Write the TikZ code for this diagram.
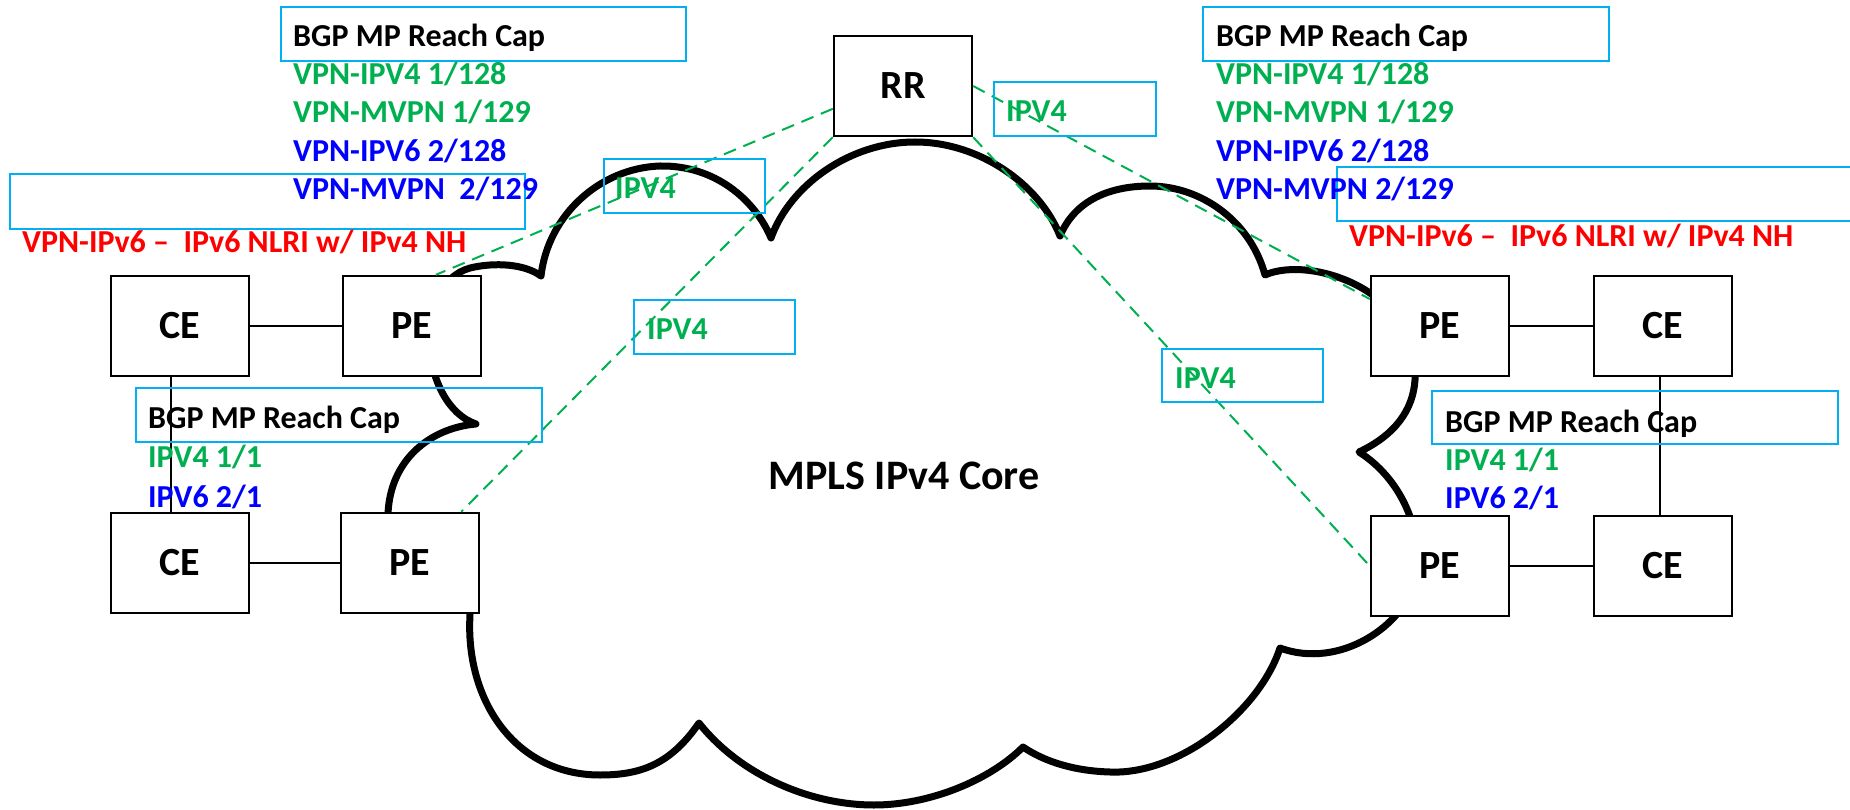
\documentclass[tikz,border=0pt]{standalone}
\usepackage{fontspec}
\setmainfont{Carlito}
\usepackage{xcolor}
\definecolor{capblue}{RGB}{0,176,240}
\definecolor{nlrigreen}{RGB}{0,176,80}
\definecolor{nlriblue}{RGB}{0,0,255}
\definecolor{nhred}{RGB}{255,0,0}

\begin{document}
\begin{tikzpicture}[x=1pt,y=-1pt,
  router/.style={draw=black, fill=white, line width=2.4pt, minimum width=138pt, minimum height=100pt, inner sep=0pt, font=\fontsize{40}{40}\selectfont\bfseries},
  lbl/.style={anchor=base west, inner sep=0pt, font=\fontsize{32}{32}\selectfont\bfseries},
  capbox/.style={draw=capblue, line width=2.2pt},
  session/.style={draw=nlrigreen, line width=2pt, dash pattern=on 13pt off 8pt},
  link/.style={draw=black, line width=2pt},
  cloud/.style={draw=black, line width=7pt, line join=round, line cap=round}]
%% page size, in pixels of the original drawing (y runs down)
\useasboundingbox (0,0) rectangle (1850,810);
%% the core cloud, drawn first so that the PE boxes sit on top of it
\draw[cloud] (541,276)
  .. controls (548,215) and (600,168) .. (660,166)
  .. controls (715,165) and (755,200) .. (771,238)
  .. controls (790,185) and (850,142) .. (915,142)
  .. controls (980,142) and (1040,185) .. (1060,236)
  .. controls (1075,200) and (1110,186) .. (1150,186)
  .. controls (1200,186) and (1250,220) .. (1265,275)
  .. controls (1310,255) and (1420,290) .. (1415,380)
  .. controls (1413,410) and (1395,435) .. (1359,452)
  .. controls (1400,478) and (1425,530) .. (1415,580)
  .. controls (1405,625) and (1340,670) .. (1280,648)
  .. controls (1260,710) and (1180,775) .. (1110,772)
  .. controls (1075,771) and (1045,762) .. (1023,747)
  .. controls (990,780) and (930,805) .. (874,805)
  .. controls (810,805) and (740,775) .. (699,723)
  .. controls (670,765) and (640,775) .. (600,775)
  .. controls (515,775) and (465,700) .. (470,615)
  .. controls (470,560) and (385,570) .. (388,514)
  .. controls (390,460) and (430,428) .. (476,424)
  .. controls (420,405) and (410,285) .. (470,268)
  .. controls (495,262) and (525,264) .. (541,276);
\node[anchor=base, inner sep=0pt, font=\fontsize{42}{42}\selectfont\bfseries] (core) at (904,489) {MPLS IPv4 Core};
%% routers
\node[router] (rr) at (903,86) {RR};
\node[router] (ce1) at (180,326) {CE};
\node[router] (pe1) at (412,326) {PE};
\node[router] (ce2) at (180,563) {CE};
\node[router] (pe2) at (410,563) {PE};
\node[router] (pe3) at (1440,326) {PE};
\node[router] (ce3) at (1663,326) {CE};
\node[router] (pe4) at (1440,566) {PE};
\node[router] (ce4) at (1663,566) {CE};
%% attachment circuits
\draw[link] (ce1) -- (pe1);
\draw[link] (ce2) -- (pe2);
\draw[link] (pe3) -- (ce3);
\draw[link] (pe4) -- (ce4);
\draw[link] ([xshift=-9pt]ce1.south) -- ([xshift=-9pt]ce2.north);
\draw[link] ([xshift=-3pt]ce3.south) -- ([xshift=-3pt]ce4.north);
%% iBGP sessions to the route reflector
\draw[session] (rr.198) -- (pe1.65);
\draw[session] (rr.south west) -- (pe2.45);
\draw[session] (rr.east) -- (pe3.159);
\draw[session] (rr.south east) -- (pe4.west);
%% text boxes
\draw[capbox] (281,7) rectangle (686,61);
\draw[capbox] (10,174) rectangle (525,229);
\draw[capbox] (1203,7) rectangle (1609,61);
\draw[capbox] (1337,167) rectangle (1856,221);
\draw[capbox] (136,388) rectangle (542,442);
\draw[capbox] (1432,391) rectangle (1838,444);
\draw[capbox] (994,82) rectangle (1156,136);
\draw[capbox] (604,159) rectangle (765,213);
\draw[capbox] (634,300) rectangle (795,354);
\draw[capbox] (1162,349) rectangle (1323,402);
%% session labels
\node[lbl, nlrigreen] (v4rr) at (1006,122) {IPV4};
\node[lbl, nlrigreen] (v4pe1) at (615,199) {IPV4};
\node[lbl, nlrigreen] (v4pe2) at (647,340) {IPV4};
\node[lbl, nlrigreen] (v4pe4) at (1175,388) {IPV4};
%% capabilities, left PE
\node[lbl] (capl) at (293,47) {BGP MP Reach Cap};
\node[lbl, nlrigreen] (capl1) at (293,85) {VPN-IPV4 1/128};
\node[lbl, nlrigreen] (capl2) at (293,123) {VPN-MVPN 1/129};
\node[lbl, nlriblue] (capl3) at (293,162) {VPN-IPV6 2/128};
\node[lbl, nlriblue] (capl4) at (293,200) {VPN-MVPN\ \ 2/129};
\node[lbl, nhred] (nhl) at (22,253) {VPN-IPv6 –\ \ IPv6 NLRI w/ IPv4 NH};
%% capabilities, right PE
\node[lbl] (capr) at (1216,47) {BGP MP Reach Cap};
\node[lbl, nlrigreen] (capr1) at (1216,85) {VPN-IPV4 1/128};
\node[lbl, nlrigreen] (capr2) at (1216,123) {VPN-MVPN 1/129};
\node[lbl, nlriblue] (capr3) at (1216,162) {VPN-IPV6 2/128};
\node[lbl, nlriblue] (capr4) at (1216,200) {VPN-MVPN 2/129};
\node[lbl, nhred] (nhr) at (1349,247) {VPN-IPv6 –\ \ IPv6 NLRI w/ IPv4 NH};
%% capabilities, CE side
\node[lbl] (capce1) at (148,428) {BGP MP Reach Cap};
\node[lbl, nlrigreen] (capce11) at (148,467) {IPV4 1/1};
\node[lbl, nlriblue] (capce12) at (148,507) {IPV6 2/1};
\node[lbl] (capce2) at (1445,432) {BGP MP Reach Cap};
\node[lbl, nlrigreen] (capce21) at (1445,470) {IPV4 1/1};
\node[lbl, nlriblue] (capce22) at (1445,508) {IPV6 2/1};
\end{tikzpicture}
\end{document}
